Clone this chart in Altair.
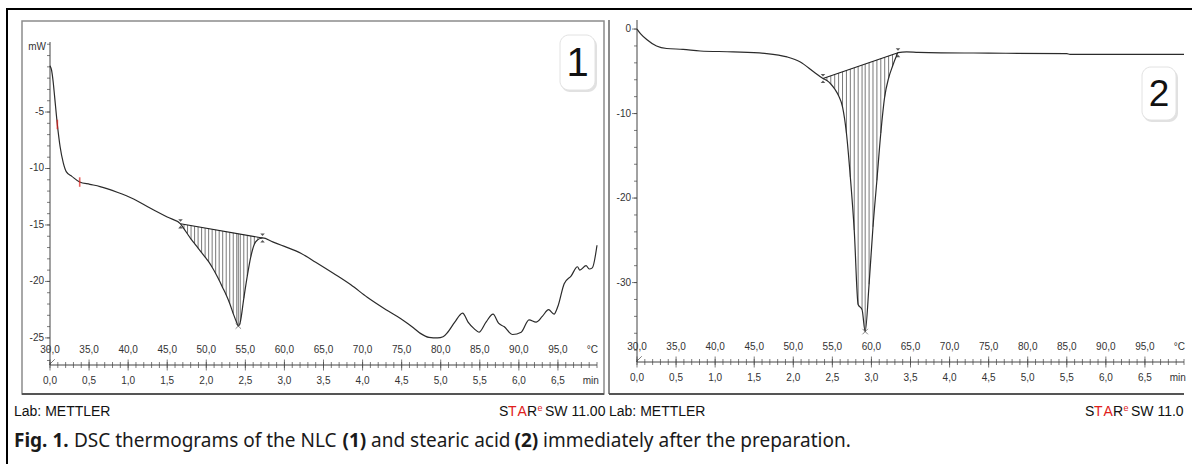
import altair as alt
import pandas as pd

# ---------------- data ----------------
# Sample 1 (NLC): heat flow in mW vs temperature in deg C
nlc_pre_T = [30.0, 30.2, 30.4, 30.6, 30.94, 31.3, 31.7, 32.1, 32.8, 33.8, 35.1, 36.4, 38.6, 40.7, 42.8, 45.0]
nlc_pre_P = [-0.9, -1.3, -2.3, -3.7, -6.1, -8.1, -9.5, -10.3, -10.7, -11.2, -11.4, -11.6, -12.1, -12.7, -13.5, -14.3]
nlc_peak_T = [46.7, 47.15, 47.6, 48.05, 48.5, 48.95, 49.4, 49.85, 50.3, 50.75, 51.2, 51.65, 52.1,
              52.55, 53.0, 53.45, 53.9, 54.1, 54.35, 54.8, 55.25, 55.7, 56.15, 56.6, 57.05, 57.2]
nlc_peak_P = [-14.9, -15.35, -15.8, -16.25, -16.65, -17.05, -17.45, -17.85, -18.25, -18.75, -19.3, -19.9, -20.55,
              -21.2, -21.95, -22.85, -23.65, -23.95, -23.6, -21.5, -19.5, -17.8, -16.7, -16.3, -16.17, -16.15]
nlc_post_T = [58.5, 60.0, 62.1, 64.0, 66.3, 68.5, 70.6, 73.0, 74.9, 76.5, 77.4, 78.5, 79.6, 80.3, 80.9, 81.8,
              82.8, 83.5, 84.3, 84.9, 85.8, 86.7, 87.4, 88.1, 89.2, 90.3, 91.3, 92.2, 93.0, 93.8, 94.5, 95.0,
              95.8, 96.7, 97.5, 97.8, 98.6, 99.0, 99.4, 100.0]
nlc_post_P = [-16.5, -16.9, -17.5, -18.3, -19.3, -20.3, -21.4, -22.5, -23.3, -24.1, -24.6, -24.95, -25.0, -24.9,
              -24.5, -23.6, -22.8, -23.6, -24.2, -24.5, -23.6, -22.9, -23.7, -24.0, -24.7, -24.5, -23.4, -23.6,
              -23.1, -22.5, -22.9, -22.2, -20.2, -19.5, -18.7, -19.0, -18.6, -18.9, -18.8, -16.8]
nlc_base_T = [46.7, 57.2]
nlc_base_P = [-14.9, -16.15]
nlc_min = (54.1, -23.95)
nlc_red_T = [30.94, 33.8]
nlc_red_P = [-6.1, -11.2]

# Sample 2 (stearic acid)
sa_pre_T = [30.0, 30.5, 31.2, 32.5, 33.8, 35.9, 38.1, 42.3, 46.6, 49.2, 50.9, 52.6]
sa_pre_P = [0.0, -0.6, -1.2, -2.0, -2.3, -2.4, -2.6, -2.7, -2.9, -3.3, -3.9, -5.05]
sa_peak_T = [53.8, 54.3, 54.8, 55.3, 55.8, 56.3, 56.8, 57.3, 57.8, 58.3, 58.8, 59.2, 59.7, 60.2, 60.7,
             61.2, 61.7, 62.2, 62.7, 63.2, 63.4]
sa_peak_P = [-5.85, -6.1, -6.5, -7.1, -7.9, -9.2, -12.3, -17.5, -23.8, -32.6, -33.2, -35.8, -30.2, -23.4, -17.9,
             -12.3, -8.0, -5.8, -4.4, -3.2, -2.8]
sa_post_T = [64.5, 66.0, 75.0, 85.0, 85.4, 100.0]
sa_post_P = [-2.7, -2.75, -2.85, -2.9, -3.0, -3.0]
sa_base_T = [53.8, 63.4]
sa_base_P = [-5.85, -2.8]
sa_min = (59.2, -35.8)

# axis ticks and labels
temp_ticks = [30, 35, 40, 45, 50, 55, 60, 65, 70, 75, 80, 85, 90, 95]
temp_labels = ["30,0", "35,0", "40,0", "45,0", "50,0", "55,0", "60,0", "65,0", "70,0", "75,0", "80,0", "85,0", "90,0", "95,0"]
min_labels = ["0,0", "0,5", "1,0", "1,5", "2,0", "2,5", "3,0", "3,5", "4,0", "4,5", "5,0", "5,5", "6,0", "6,5"]
temp_minor = list(range(30, 101))
y1_ticks = [-5, -10, -15, -20, -25]
y1_labels = ["-5", "-10", "-15", "-20", "-25"]
y1_minor = list(range(-27, 2))
y2_ticks = [0, -10, -20, -30]
y2_labels = ["0", "-10", "-20", "-30"]
y2_minor = list(range(-38, 1, 2))

# ---------------- layout / style ----------------
TD = [30, 100]
P1 = dict(xr=[50, 597], yd=[-27.4, 1.2], yr=[365, 42])
P2 = dict(xr=[637, 1184], yd=[-39.4, 1.07], yr=[362, 20])
LAB_FONT = "Liberation Sans, sans-serif"
LAB_SIZE = 10
TXT = "#333333"
DUMMY = pd.DataFrame({"a": [0]})


def sx(p):
    return alt.Scale(domain=TD, range=p["xr"], nice=False, zero=False)


def sy(p):
    return alt.Scale(domain=p["yd"], range=p["yr"], nice=False, zero=False)


def X(p, f="T"):
    return alt.X(f"{f}:Q", scale=sx(p), axis=None)


def Y(p, f="P"):
    return alt.Y(f"{f}:Q", scale=sy(p), axis=None)


def XD(p, v):
    return alt.XDatum(v, type="quantitative", scale=sx(p), axis=None)


def YD(p, v):
    return alt.YDatum(v, type="quantitative", scale=sy(p), axis=None)


def panel(p, pre_T, pre_P, pk_T, pk_P, post_T, post_P, b_T, b_P, mn, ylab_txt, ymaj, ymin_list):
    layers = []
    y0 = p["yd"][0]
    # axis lines
    layers.append(alt.Chart(DUMMY).mark_rule(color="#444", strokeWidth=1).encode(
        x=XD(p, 30), y=YD(p, p["yd"][0]), y2=alt.Y2Datum(p["yd"][1])))
    layers.append(alt.Chart(DUMMY).mark_rule(color="#444", strokeWidth=1).encode(
        x=XD(p, 30), x2=alt.X2Datum(100), y=YD(p, y0)))
    # y ticks
    layers.append(alt.Chart(pd.DataFrame({"P": ymin_list})).mark_tick(
        orient="horizontal", size=3, thickness=1, color="#444", xOffset=-1.5).encode(x=XD(p, 30), y=Y(p)))
    layers.append(alt.Chart(pd.DataFrame({"P": ymaj})).mark_tick(
        orient="horizontal", size=5, thickness=1, color="#444", xOffset=-2.5).encode(x=XD(p, 30), y=Y(p)))
    layers.append(alt.Chart(pd.DataFrame({"P": ymaj, "L": ylab_txt})).mark_text(
        align="right", baseline="middle", dx=-6, font=LAB_FONT, fontSize=LAB_SIZE, color=TXT).encode(
        x=XD(p, 30), y=Y(p), text="L:N"))
    # x ticks
    layers.append(alt.Chart(pd.DataFrame({"T": temp_minor})).mark_tick(
        orient="vertical", size=6, thickness=1, color="#444").encode(x=X(p), y=YD(p, y0)))
    layers.append(alt.Chart(pd.DataFrame({"T": temp_ticks})).mark_tick(
        orient="vertical", size=11, thickness=1, color="#444").encode(x=X(p), y=YD(p, y0)))
    layers.append(alt.Chart(pd.DataFrame({"T": temp_ticks, "L": temp_labels})).mark_text(
        align="center", baseline="middle", dy=-15, font=LAB_FONT, fontSize=LAB_SIZE, color=TXT).encode(
        x=X(p), y=YD(p, y0), text="L:N"))
    layers.append(alt.Chart(pd.DataFrame({"T": temp_ticks, "L": min_labels})).mark_text(
        align="center", baseline="middle", dy=16, font=LAB_FONT, fontSize=LAB_SIZE, color=TXT).encode(
        x=X(p), y=YD(p, y0), text="L:N"))
    layers.append(alt.Chart(DUMMY).mark_text(
        align="center", baseline="middle", dy=-15, font=LAB_FONT, fontSize=LAB_SIZE, color=TXT, text="°C").encode(
        x=XD(p, 99.4), y=YD(p, y0)))
    layers.append(alt.Chart(DUMMY).mark_text(
        align="center", baseline="middle", dy=16, font=LAB_FONT, fontSize=LAB_SIZE, color=TXT, text="min").encode(
        x=XD(p, 99.2), y=YD(p, y0)))
    layers.append(alt.Chart(DUMMY).mark_point(
        shape="M-1,1L1,-1", size=30, color="#444", strokeWidth=1, filled=False, xOffset=2, yOffset=-3).encode(
        x=XD(p, 30), y=YD(p, y0)))
    # hatching between the integration baseline and the peak
    t0, t1 = b_T
    v0, v1 = b_P
    hatch = alt.Chart(pd.DataFrame({"T": pk_T, "P": pk_P})).transform_calculate(
        B=f"{v0} + (datum.T - {t0}) * ({v1} - {v0}) / ({t1} - {t0})"
    ).mark_rule(color="#6a6a6a", strokeWidth=0.9).encode(x=X(p), y=Y(p), y2=alt.Y2("B:Q"))
    layers.append(hatch)
    # baseline
    layers.append(alt.Chart(pd.DataFrame({"T": b_T, "P": b_P})).mark_line(color="#222", strokeWidth=1.1).encode(
        x=X(p), y=Y(p)))
    # full curve
    curve = pd.DataFrame({"T": pre_T + pk_T + post_T, "P": pre_P + pk_P + post_P})
    layers.append(alt.Chart(curve).mark_line(color="#2b2b2b", strokeWidth=1.2, interpolate="monotone").encode(
        x=X(p), y=Y(p)))
    # baseline limit markers
    layers.append(alt.Chart(pd.DataFrame({"T": b_T, "P": b_P})).mark_point(
        shape="M0,-1L0,1M-0.4,-0.8L0,-0.35L0.4,-0.8ZM-0.4,0.8L0,0.35L0.4,0.8Z",
        size=130, color="#111", strokeWidth=1, filled=True).encode(x=X(p), y=Y(p)))
    # peak minimum cross
    layers.append(alt.Chart(pd.DataFrame({"T": [mn[0]], "P": [mn[1]]})).mark_point(
        shape="M-1,-1L1,1M-1,1L1,-1", size=30, color="#555", strokeWidth=1, filled=False).encode(
        x=X(p), y=Y(p)))
    return layers


layers = []

# outer frame
layers.append(alt.Chart(DUMMY).mark_rule(color="#000", strokeWidth=2).encode(
    x=alt.value(6), x2=alt.value(1192), y=alt.value(9)))
layers.append(alt.Chart(DUMMY).mark_rule(color="#000", strokeWidth=2).encode(
    x=alt.value(7), y=alt.value(8), y2=alt.value(464)))
# panel frames
layers.append(alt.Chart(DUMMY).mark_rect(fill="white", stroke="#8c8c8c", strokeWidth=1.5).encode(
    x=alt.value(22), x2=alt.value(604), y=alt.value(21), y2=alt.value(394)))
layers.append(alt.Chart(DUMMY).mark_rule(color="#555", strokeWidth=2).encode(
    x=alt.value(22), x2=alt.value(604), y=alt.value(394)))
layers.append(alt.Chart(DUMMY).mark_rule(color="#8c8c8c", strokeWidth=2).encode(
    x=alt.value(609), y=alt.value(20), y2=alt.value(394)))
layers.append(alt.Chart(DUMMY).mark_rule(color="#555", strokeWidth=2).encode(
    x=alt.value(609), x2=alt.value(1184), y=alt.value(394)))

layers += panel(P1, nlc_pre_T, nlc_pre_P, nlc_peak_T, nlc_peak_P, nlc_post_T, nlc_post_P,
                nlc_base_T, nlc_base_P, nlc_min, y1_labels, y1_ticks, y1_minor)
layers += panel(P2, sa_pre_T, sa_pre_P, sa_peak_T, sa_peak_P, sa_post_T, sa_post_P,
                sa_base_T, sa_base_P, sa_min, y2_labels, y2_ticks, y2_minor)

# red marks on curve 1
layers.append(alt.Chart(pd.DataFrame({"T": nlc_red_T, "P": nlc_red_P})).mark_point(
    shape="M0,-1L0,1", size=90, color="#e0201b", strokeWidth=1.6, filled=False).encode(x=X(P1), y=Y(P1)))
# mW unit
layers.append(alt.Chart(DUMMY).mark_text(
    align="right", baseline="middle", font=LAB_FONT, fontSize=LAB_SIZE, color=TXT, text="mW").encode(
    x=alt.value(46), y=alt.value(47)))

# numbered boxes
for (bx0, bx1, by0, by1, num, fs) in [(560, 595, 35, 90, "1", 40), (1142, 1176, 67, 120, "2", 37)]:
    layers.append(alt.Chart(DUMMY).mark_rect(fill="#d9d9d9", cornerRadius=9, opacity=0.8).encode(
        x=alt.value(bx0 + 1), x2=alt.value(bx1 + 2), y=alt.value(by0 + 2), y2=alt.value(by1 + 2)))
    layers.append(alt.Chart(DUMMY).mark_rect(fill="white", stroke="#e2e2e2", strokeWidth=1, cornerRadius=9).encode(
        x=alt.value(bx0), x2=alt.value(bx1), y=alt.value(by0), y2=alt.value(by1)))
    layers.append(alt.Chart(DUMMY).mark_text(
        align="center", baseline="middle", font="Liberation Sans", fontSize=fs, color="#111", text=num).encode(
        x=alt.value((bx0 + bx1) / 2), y=alt.value((by0 + by1) / 2 + 1)))

# footer texts
FOOT = "Liberation Sans, sans-serif"
foot_items = [
    (14, "Lab: METTLER", "#111", 14, 0),
    (609, "Lab: METTLER", "#111", 14, 0),
]
for start in (499, 1085):
    foot_items += [
        (start, "S", "#111", 14, 0),
        (start + 9, "T", "#e0201b", 14, 0),
        (start + 18.5, "A", "#e0201b", 14, 0),
        (start + 28, "R", "#111", 14, 0),
        (start + 38.5, "e", "#e0201b", 9, -5),
    ]
foot_items += [(545, "SW 11.00", "#111", 14, 0), (1131, "SW 11.0", "#111", 14, 0)]
for (fx, ftxt, fc, fsz, fdy) in foot_items:
    layers.append(alt.Chart(DUMMY).mark_text(
        align="left", baseline="alphabetic", font=FOOT, fontSize=fsz, color=fc, text=ftxt, dy=fdy).encode(
        x=alt.value(fx), y=alt.value(416)))

# caption
CAP = "Noto Sans"
cap_items = [
    (14, "Fig. 1.", "bold"),
    (74, "DSC thermograms of the NLC", "normal"),
    (342.5, "(1)", "bold"),
    (371, "and stearic acid", "normal"),
    (514.5, "(2)", "bold"),
    (543, "immediately after the preparation.", "normal"),
]
for (cx, ctxt, cw) in cap_items:
    layers.append(alt.Chart(DUMMY).mark_text(
        align="left", baseline="alphabetic", font=CAP, fontSize=19, fontWeight=cw, color="#1a1a1a",
        text=ctxt).encode(x=alt.value(cx), y=alt.value(447)))

chart = alt.layer(*layers).resolve_scale(x="independent", y="independent").properties(
    width=1192, height=464, autosize=alt.AutoSizeParams(type="none"), padding=0, background="white"
).configure_view(strokeOpacity=0)

chart.save("out.html", embed_options={"renderer": "svg", "actions": False})
